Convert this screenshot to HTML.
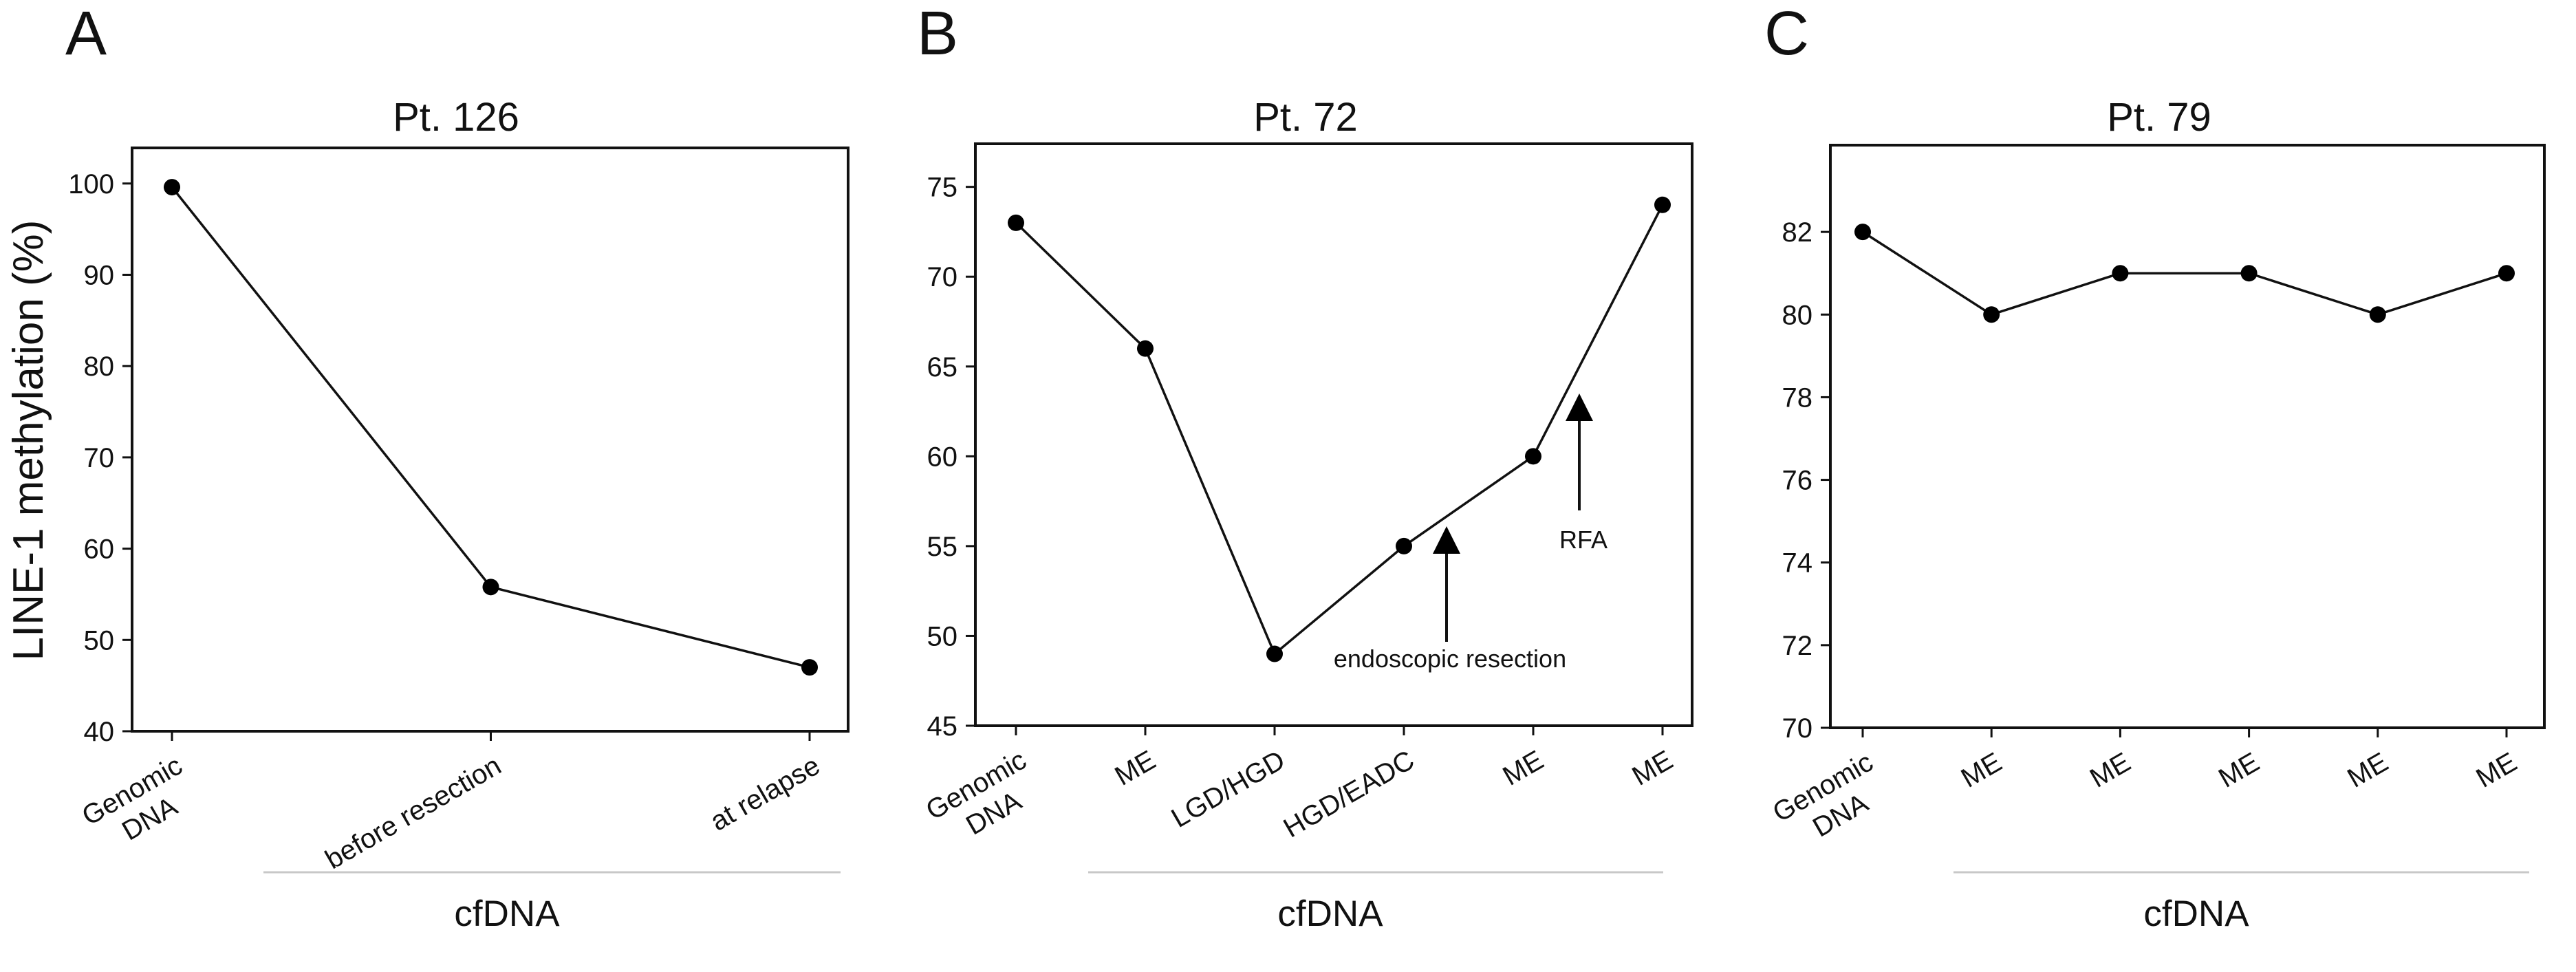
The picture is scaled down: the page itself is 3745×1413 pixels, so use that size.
<!DOCTYPE html>
<html><head><meta charset="utf-8">
<style>
html,body{margin:0;padding:0;background:#fff;}
svg{display:block;font-family:"Liberation Sans",Arial,sans-serif;}
</style></head>
<body>
<svg id="fig" width="3745" height="1413" viewBox="0 0 3745 1413" xmlns="http://www.w3.org/2000/svg">
<rect x="0" y="0" width="3745" height="1413" fill="#fff"/>
</svg>
<script>
// ---- Panel A data ----
const catsA = [["Genomic","DNA"],["before resection"],["at relapse"]];
const valsA = [99.6, 55.8, 47.0];
const ticksA = [40,50,60,70,80,90,100];
// ---- Panel B data ----
const catsB = [["Genomic","DNA"],["ME"],["LGD/HGD"],["HGD/EADC"],["ME"],["ME"]];
const valsB = [73, 66, 49, 55, 60, 74];
const ticksB = [45,50,55,60,65,70,75];
// ---- Panel C data ----
const catsC = [["Genomic","DNA"],["ME"],["ME"],["ME"],["ME"],["ME"]];
const valsC = [82, 80, 81, 81, 80, 81];
const ticksC = [70,72,74,76,78,80,82];

const NS = "http://www.w3.org/2000/svg";
const svg = document.getElementById('fig');
function mk(tag, attrs, parent){
  const e = document.createElementNS(NS, tag);
  for (const k in attrs) e.setAttribute(k, attrs[k]);
  (parent||svg).appendChild(e);
  return e;
}

const panels = [
  {id:'a', letter:'A', lx:95, title:'Pt. 126', cats:catsA, vals:valsA, ticks:ticksA,
   left:192, right:1233, top:215, bottom:1063, ymin:40, ymax:103.9, x0:250, x1:1177,
   tcx:663, gx1:383, gx2:1222, cfx:737, ylabel:true},
  {id:'b', letter:'B', lx:1333, title:'Pt. 72', cats:catsB, vals:valsB, ticks:ticksB,
   left:1418, right:2460, top:209, bottom:1055, ymin:45, ymax:77.4, x0:1477, x1:2417,
   tcx:1898, gx1:1582, gx2:2418, cfx:1934},
  {id:'c', letter:'C', lx:2565, title:'Pt. 79', cats:catsC, vals:valsC, ticks:ticksC,
   left:2661, right:3699, top:211, bottom:1058, ymin:70, ymax:84.1, x0:2708, x1:3644,
   tcx:3139, gx1:2840, gx2:3677, cfx:3193}
];

panels.forEach(p => {
  const g = mk('g', {});
  
  
  const n = p.vals.length;
  const xs = i => p.x0 + (p.x1 - p.x0) * i / (n - 1);
  const ys = v => p.bottom - (v - p.ymin) / (p.ymax - p.ymin) * (p.bottom - p.top);

  const L = mk('text', {x:p.lx, y:79, 'font-size':90, fill:'#111'}, g);
  L.textContent = p.letter;
  
  

  const T = mk('text', {x:p.tcx, y:190, 'font-size':58, 'text-anchor':'middle', fill:'#111'}, g);
  T.textContent = p.title;
  
  

  const F = mk('rect', {x:p.left, y:p.top, width:p.right-p.left, height:p.bottom-p.top, fill:'none', stroke:'#111', 'stroke-width':4}, g);
  
  

  p.ticks.forEach(t => {
    const y = ys(t);
    const tl = mk('line', {x1:p.left-14, x2:p.left, y1:y, y2:y, stroke:'#111', 'stroke-width':3}, g);
    
    
    const tx = mk('text', {x:p.left-26, y:y+14, 'font-size':40, 'text-anchor':'end', fill:'#111'}, g);
    tx.textContent = t;
    
    
  });

  p.cats.forEach((c, i) => {
    const x = xs(i);
    const tk = mk('line', {x1:x, x2:x, y1:p.bottom, y2:p.bottom+14, stroke:'#111', 'stroke-width':3}, g);
    
    
    const tx = mk('text', {'font-size':40, fill:'#111', 'text-anchor':'end',
      transform:'translate(' + (x+18) + ',' + (p.bottom+58) + ') rotate(-30)'}, g);
    
    
    c.forEach((line, j) => {
      const ts = mk('tspan', {x: j===0 ? 0 : -36, y: j*48}, tx);
      ts.textContent = line;
    });
  });

  let d = '';
  p.vals.forEach((v, i) => { d += (i ? 'L' : 'M') + xs(i) + ',' + ys(v); });
  const pl = mk('path', {d:d, fill:'none', stroke:'#111', 'stroke-width':3.5}, g);
  
  
  p.vals.forEach((v, i) => {
    const c = mk('circle', {cx:xs(i), cy:ys(v), r:12, fill:'#000'}, g);
    
    
  });

  const gl = mk('line', {x1:p.gx1, x2:p.gx2, y1:1268, y2:1268, stroke:'#c8c8c8', 'stroke-width':3}, g);
  
  
  const cf = mk('text', {x:p.cfx, y:1346, 'font-size':53, 'text-anchor':'middle', fill:'#111'}, g);
  cf.textContent = 'cfDNA';
  
  

  if (p.ylabel) {
    const yl = mk('text', {'font-size':62, 'text-anchor':'middle', fill:'#111', transform:'translate(62,640) rotate(-90)'}, g);
    yl.textContent = 'LINE-1 methylation (%)';
    
    
  }
});

// annotations in panel B
function arrow(x, tip, base, name){
  const g = mk('g', {});
  
  
  mk('line', {x1:x, x2:x, y1:tip+30, y2:base, stroke:'#111', 'stroke-width':4}, g);
  mk('polygon', {points:(x)+','+tip+' '+(x-20)+','+(tip+40)+' '+(x+20)+','+(tip+40), fill:'#000'}, g);
}
arrow(2103, 765, 933, 'endoscopic-resection-arrow');
arrow(2296, 572, 742, 'rfa-arrow');
const t1 = mk('text', {x:2108, y:970, 'font-size':36, 'text-anchor':'middle', fill:'#111'});
t1.textContent = 'endoscopic resection';


const t2 = mk('text', {x:2302, y:797, 'font-size':36, 'text-anchor':'middle', fill:'#111'});
t2.textContent = 'RFA';


</script>
</body></html>
